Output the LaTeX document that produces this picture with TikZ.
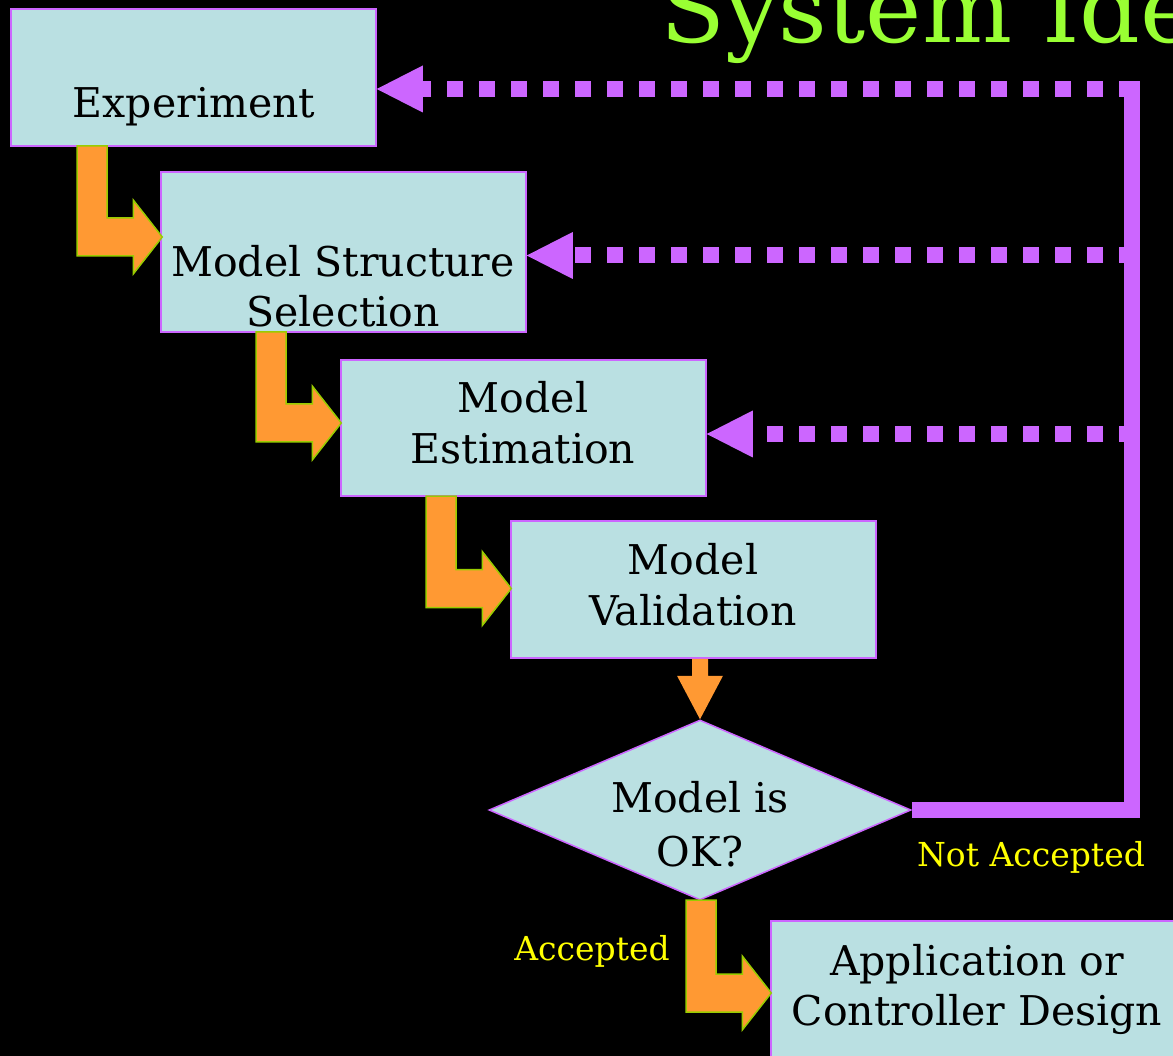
\documentclass[tikz,border=0pt]{standalone}
\usepackage{fontspec}
\setmainfont{DejaVu Serif}
\usetikzlibrary{calc,shapes.geometric}
\definecolor{boxfill}{RGB}{186,224,226}
\definecolor{purp}{RGB}{204,102,255}
\definecolor{orng}{RGB}{255,153,51}
\definecolor{agreen}{RGB}{153,204,0}
\definecolor{tgreen}{RGB}{153,255,51}
\definecolor{ylw}{RGB}{255,255,0}
\newcommand\bentarr[2]{%
  \draw[bentstyle] #1 -- ++(30,0) |- ($#2+(-29,-19)$) -- ($#2+(-29,-37)$) -- #2
    -- ($#2+(-29,37)$) -- ($#2+(-29,19)$) -| #1 -- cycle;}
\begin{document}
\begin{tikzpicture}[x=1pt,y=-1pt,
  box/.style={draw=purp,line width=1.5pt,fill=boxfill,rectangle,inner sep=0pt},
  dia/.style={draw=purp,line width=1.5pt,fill=boxfill,diamond,inner sep=0pt,aspect=2.34},
  boxtext/.style={anchor=base,inner sep=0pt,font=\fontsize{41}{48}\selectfont,text=black},
  lbl/.style={anchor=base,inner sep=0pt,font=\fontsize{33}{38}\selectfont,text=ylw},
  bentstyle/.style={fill=orng,draw=agreen,line width=1.5pt,line join=miter},
  fb/.style={draw=purp,line width=16pt,line cap=butt,line join=miter},
  dots/.style={draw=purp,line width=16pt,line cap=butt,dash pattern=on 16pt off 16pt},
  headfill/.style={fill=purp}
]
\useasboundingbox (0,0) rectangle (1173,1056);
\clip (0,0) rectangle (1173,1056);
\fill[black] (0,0) rectangle (1173,1056);

% title (cut off by the picture's edges, as in the original)
\node[anchor=base west,inner sep=0pt,text=tgreen,font=\fontsize{95}{100}\selectfont] (title) at (660,43) {System Identification};

% boxes
\node[box,minimum width=365pt,minimum height=137pt] (exp) at (193.5,77.5) {};
\node[box,minimum width=365pt,minimum height=160pt] (ms) at (343.5,252) {};
\node[box,minimum width=365pt,minimum height=136pt] (est) at (523.5,428) {};
\node[box,minimum width=365pt,minimum height=137pt] (val) at (693.5,589.5) {};
\node[dia,minimum width=422pt,minimum height=180pt] (ok) at (700,810) {};
\node[box,minimum width=440pt,minimum height=160pt] (app) at (991,1001) {};

% feedback path
\coordinate (corner) at (1132,810);
\coordinate (top) at (1132,81);
\draw[fb] (ok.east) -- (corner) -- (top);
\coordinate (f1) at (1135,89);
\coordinate (f2) at (1135,255.5);
\coordinate (f3) at (1135,434);
\draw[dots] (f1) -- ($(f1 -| exp.east)+(46,0)$);
\fill[headfill] (f1 -| exp.east) -- ++(46,-23.5) -- ++(0,47) -- cycle;
\draw[dots] (f2) -- ($(f2 -| ms.east)+(46,0)$);
\fill[headfill] (f2 -| ms.east) -- ++(46,-23.5) -- ++(0,47) -- cycle;
\draw[dots] (f3) -- ($(f3 -| est.east)+(46,0)$);
\fill[headfill] (f3 -| est.east) -- ++(46,-23.5) -- ++(0,47) -- cycle;

% orange bent arrows
\bentarr{(77,146)}{($(ms.west)+(2,-15)$)}
\bentarr{(256,332)}{($(est.west)+(1,-5)$)}
\bentarr{(426,496)}{($(val.west)+(1,-1)$)}
\bentarr{(686,900)}{($(app.west)+(1,-8)$)}

% straight down arrow
\coordinate (ds) at (val.south -| ok.north);
\fill[orng] ($(ds)+(-8,0)$) -- ($(ds)+(8,0)$) -- ($(ds)+(8,17)$) -- ($(ds)+(23,17)$)
  -- (ok.north) -- ($(ds)+(-23,17)$) -- ($(ds)+(-8,17)$) -- cycle;

% texts
\node[boxtext] (t1) at (194,118) {Experiment};
\node[boxtext] (t2a) at (343,277) {Model Structure};
\node[boxtext] (t2b) at (343,327) {Selection};
\node[boxtext] (t3a) at (523,413) {Model};
\node[boxtext] (t3b) at (523,464) {Estimation};
\node[boxtext] (t4a) at (693,574) {Model};
\node[boxtext] (t4b) at (693,625) {Validation};
\node[boxtext] (t5a) at (700,812) {Model is};
\node[boxtext] (t5b) at (700,866) {OK?};
\node[boxtext] (t6a) at (977,975) {Application or};
\node[boxtext] (t6b) at (977,1025) {Controller Design};
\node[lbl] (na) at (1031,866) {Not Accepted};
\node[lbl] (ac) at (592,960) {Accepted};
\end{tikzpicture}
\end{document}
